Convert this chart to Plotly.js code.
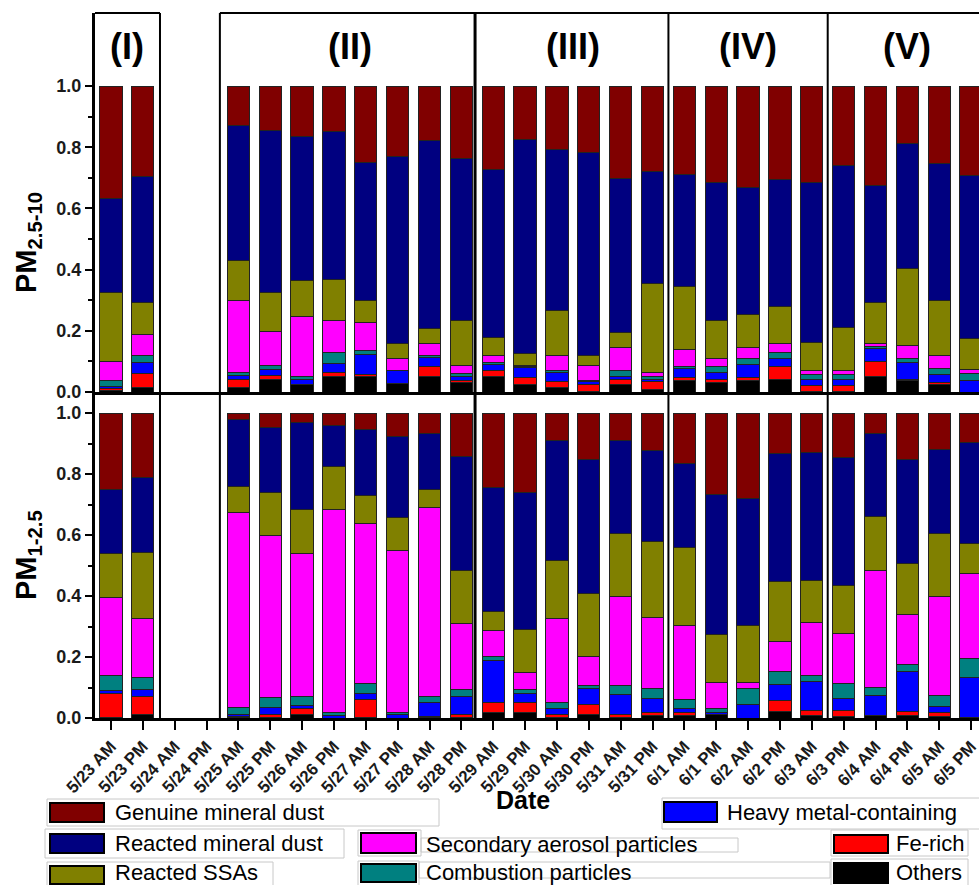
<!DOCTYPE html>
<html><head><meta charset="utf-8">
<script src="https://cdn.plot.ly/plotly-3.0.1.min.js"></script>
<style>html,body{margin:0;padding:0;overflow:hidden;background:#fff}#chart{width:1000px;height:885px}</style>
</head><body><div id="chart"></div>
<script>
// ---------------- DATA ----------------
const dates = ['5/23 AM','5/23 PM','5/24 AM','5/24 PM','5/25 AM','5/25 PM','5/26 AM','5/26 PM','5/27 AM','5/27 PM',
  '5/28 AM','5/28 PM','5/29 AM','5/29 PM','5/30 AM','5/30 PM','5/31 AM','5/31 PM','6/1 AM','6/1 PM',
  '6/2 AM','6/2 PM','6/3 AM','6/3 PM','6/4 AM','6/4 PM','6/5 AM','6/5 PM'];
const seriesNames = ['Others','Fe-rich','Heavy metal-containing','Combustion particles',
  'Secondary aerosol particles','Reacted SSAs','Reacted mineral dust','Genuine mineral dust'];
const seriesColors = ['#000000','#FF0000','#0000FF','#008080','#FF00FF','#808000','#000080','#800000'];
const periodLabels = ['(I)','(II)','(III)','(IV)','(V)'];

// PM2.5-10 fractions
const coarseOthers = [0.004,0.015,null,null,0.015,0.040,0.023,0.050,0.050,0.029,0.050,0.030,0.050,0.023,0.015,0.003,0.023,0.009,0.036,0.031,0.036,0.042,0.003,0.003,0.050,0.036,0.023,0.000];
const coarseFe     = [0.008,0.046,null,null,0.027,0.013,0.000,0.015,0.007,0.000,0.033,0.007,0.020,0.025,0.020,0.020,0.018,0.025,0.012,0.010,0.013,0.041,0.019,0.019,0.049,0.005,0.008,0.000];
const coarseHM     = [0.005,0.035,null,null,0.013,0.021,0.019,0.029,0.065,0.041,0.029,0.013,0.020,0.032,0.028,0.010,0.009,0.006,0.030,0.023,0.041,0.026,0.019,0.019,0.044,0.055,0.027,0.037];
const coarseComb   = [0.022,0.024,null,null,0.009,0.013,0.009,0.036,0.015,0.001,0.006,0.009,0.008,0.002,0.008,0.004,0.020,0.010,0.005,0.019,0.020,0.021,0.016,0.015,0.007,0.014,0.019,0.024];
const coarseSec    = [0.060,0.067,null,null,0.236,0.111,0.196,0.104,0.091,0.039,0.041,0.026,0.020,0.006,0.049,0.048,0.076,0.013,0.056,0.027,0.034,0.027,0.013,0.014,0.007,0.041,0.041,0.013];
const coarseSSA    = [0.227,0.105,null,null,0.131,0.128,0.116,0.135,0.070,0.049,0.048,0.150,0.060,0.037,0.145,0.034,0.050,0.292,0.205,0.124,0.110,0.121,0.092,0.140,0.135,0.252,0.180,0.100];
const coarseRMD    = [0.307,0.412,null,null,0.440,0.529,0.473,0.483,0.453,0.610,0.614,0.529,0.550,0.700,0.526,0.665,0.501,0.365,0.366,0.450,0.413,0.415,0.524,0.531,0.384,0.409,0.449,0.532];
const coarseGMD    = [0.367,0.296,null,null,0.129,0.145,0.164,0.148,0.249,0.231,0.179,0.236,0.272,0.175,0.209,0.216,0.303,0.280,0.290,0.316,0.333,0.307,0.314,0.259,0.324,0.188,0.253,0.294];

// PM1-2.5 fractions
const fineOthers = [0.003,0.013,null,null,0.002,0.002,0.013,0.000,0.002,0.000,0.001,0.002,0.019,0.019,0.002,0.013,0.002,0.009,0.008,0.012,0.000,0.020,0.007,0.004,0.007,0.007,0.004,0.002];
const fineFe     = [0.078,0.059,null,null,0.003,0.011,0.019,0.000,0.059,0.000,0.004,0.010,0.032,0.032,0.010,0.032,0.010,0.008,0.011,0.000,0.000,0.038,0.017,0.020,0.000,0.014,0.015,0.000];
const fineHM     = [0.009,0.022,null,null,0.005,0.023,0.008,0.007,0.018,0.013,0.046,0.060,0.137,0.028,0.020,0.051,0.066,0.047,0.011,0.005,0.043,0.051,0.095,0.040,0.066,0.133,0.020,0.131];
const fineComb   = [0.048,0.039,null,null,0.025,0.032,0.030,0.012,0.035,0.006,0.019,0.022,0.014,0.013,0.019,0.009,0.028,0.033,0.031,0.015,0.053,0.045,0.019,0.049,0.028,0.023,0.034,0.063];
const fineSec    = [0.257,0.193,null,null,0.639,0.529,0.470,0.665,0.524,0.531,0.619,0.215,0.084,0.058,0.275,0.096,0.294,0.232,0.241,0.084,0.020,0.097,0.175,0.165,0.383,0.163,0.327,0.279];
const fineSSA    = [0.144,0.218,null,null,0.084,0.142,0.145,0.139,0.093,0.108,0.061,0.175,0.064,0.139,0.189,0.206,0.205,0.249,0.256,0.158,0.186,0.196,0.137,0.156,0.176,0.165,0.205,0.098];
const fineRMD    = [0.211,0.245,null,null,0.221,0.214,0.284,0.137,0.215,0.264,0.183,0.373,0.406,0.451,0.394,0.441,0.306,0.300,0.277,0.459,0.417,0.421,0.421,0.420,0.272,0.343,0.276,0.330];
const fineGMD    = [0.250,0.211,null,null,0.021,0.047,0.031,0.040,0.054,0.078,0.067,0.143,0.244,0.260,0.091,0.152,0.089,0.122,0.165,0.267,0.281,0.132,0.129,0.146,0.068,0.152,0.119,0.097];

// ---------------- STYLE / LAYOUT ----------------
const coarseSeries = [coarseOthers,coarseFe,coarseHM,coarseComb,coarseSec,coarseSSA,coarseRMD,coarseGMD];
const fineSeries   = [fineOthers,fineFe,fineHM,fineComb,fineSec,fineSSA,fineRMD,fineGMD];
const FONT = 'Liberation Sans, Arial, sans-serif';

// plot area in pixels: x 95..987, y 13..718
const PL = 95, PR = 987, PT = 13, PB = 718;
const px = x => (x - PL) / (PR - PL);
const py = y => (PB - y) / (PB - PT);

const traces = [];
seriesNames.forEach((name, i) => {
  traces.push({type:'bar', x: dates, y: coarseSeries[i], name, xaxis:'x2', yaxis:'y',
    marker:{color: seriesColors[i], line:{color:'#222', width:1}}, showlegend:false, hoverinfo:'x+y+name'});
  traces.push({type:'bar', x: dates, y: fineSeries[i], name, xaxis:'x', yaxis:'y2',
    marker:{color: seriesColors[i], line:{color:'#222', width:1}}, showlegend:false, hoverinfo:'x+y+name'});
});

const splitY = py(392);
const yTicks = [0,0.2,0.4,0.6,0.8,1.0];
const yTickText = ['0.0','0.2','0.4','0.6','0.8','1.0'];
const yMinor = [0.1,0.3,0.5,0.7,0.9];
const yCommon = {
  tickvals: yTicks, ticktext: yTickText, ticks:'outside', ticklen:7, tickwidth:2, tickcolor:'#000',
  showline:true, linewidth:3, linecolor:'#000', showgrid:false, zeroline:false, fixedrange:true,
  tickfont:{family:FONT, size:18, weight:'bold', color:'#1a1a1a'},
  minor:{tickvals: yMinor, ticks:'outside', ticklen:4, tickwidth:2, tickcolor:'#000', showgrid:false}
};

// period boxes (category-index boundaries)
const boundaries = [1.54, 3.42, 11.43, 17.5, 22.5];
const boundaryWidth = [2, 2, 3, 2, 2];
const periodCenters = [0.5, 7.5, 14.5, 20, 25];

const shapes = [];
boundaries.forEach((b, i) => shapes.push({type:'line', xref:'x', yref:'paper', x0:b, x1:b, y0:0, y1:1,
  line:{color:'#000', width:boundaryWidth[i]}}));
shapes.push({type:'line', xref:'x', yref:'paper', x0:-0.5, x1:1.54, y0:1, y1:1, line:{color:'#000', width:2}});
shapes.push({type:'line', xref:'x', yref:'paper', x0:3.42, x1:27.5, y0:1, y1:1, line:{color:'#000', width:2}});

const annotations = [];
periodLabels.forEach((t, i) => annotations.push({xref:'x', yref:'paper', x: periodCenters[i], y: py(47),
  text: t, showarrow:false, xanchor:'center', yanchor:'middle', font:{family:FONT, size:36, weight:'bold', color:'#000'}}));

annotations.push({xref:'paper', yref:'paper', x: px(28), y: py(243), text:'PM<sub>2.5-10</sub>', textangle:-90,
  showarrow:false, xanchor:'center', yanchor:'middle', font:{family:FONT, size:29, weight:'bold', color:'#000'}});
annotations.push({xref:'paper', yref:'paper', x: px(28), y: py(555), text:'PM<sub>1-2.5</sub>', textangle:-90,
  showarrow:false, xanchor:'center', yanchor:'middle', font:{family:FONT, size:29, weight:'bold', color:'#000'}});
annotations.push({xref:'paper', yref:'paper', x: px(523), y: py(800), text:'Date',
  showarrow:false, xanchor:'center', yanchor:'middle', font:{family:FONT, size:25, weight:'bold', color:'#000'}});

// legend drawn manually: [seriesIndex, outerBox, swatch, textX, textY]
const legendSpots = [
  [7, [47,799,439,826], [50,803,104,822], 113, 812],
  [6, [45,829,344,858], [50,834,104,853], 113, 843],
  [5, [47,862,273,892], [50,866,104,884], 113, 872],
  [2, [662,798,990,829], [664,802,717,822], 725, 812],
  [4, [358,830,421,856], [361,833,416,853], 424, 844],
  [3, [358,861,419,890], [361,864,416,882], 424, 872],
  [1, [831,830,968,856], [834,835,888,853], 894, 843],
  [0, [831,859,968,890], [834,863,888,883], 894, 872]
];
const textBoxes = [[421,838,738,852],[419,862,830,878]];
textBoxes.forEach(b => shapes.push({type:'rect', xref:'paper', yref:'paper', x0:px(b[0]), x1:px(b[2]), y0:py(b[1]), y1:py(b[3]),
  line:{color:'#c8c8c8', width:1}, fillcolor:'rgba(0,0,0,0)'}));
legendSpots.forEach(([si, ob, sw, tx, ty]) => {
  shapes.push({type:'rect', xref:'paper', yref:'paper', x0:px(ob[0]), x1:px(ob[2]), y0:py(ob[1]), y1:py(ob[3]),
    line:{color:'#c8c8c8', width:1}, fillcolor:'rgba(255,255,255,0)'});
  shapes.push({type:'rect', xref:'paper', yref:'paper', x0:px(sw[0]), x1:px(sw[2]), y0:py(sw[1]), y1:py(sw[3]),
    line:{color:'#000', width:2}, fillcolor: seriesColors[si]});
  annotations.push({xref:'paper', yref:'paper', x:px(tx), y:py(ty), text: seriesNames[si], showarrow:false,
    xanchor:'left', yanchor:'middle', font:{family:FONT, size:22, color:'#000'}});
});

const layout = {
  width:1000, height:885,
  margin:{l:PL, r:1000-PR, t:PT, b:885-PB, pad:0},
  paper_bgcolor:'#fff', plot_bgcolor:'rgba(0,0,0,0)',
  barmode:'stack', bargap:0.30,
  showlegend:false,
  xaxis:{domain:[0,1], anchor:'y2', type:'category', categoryorder:'array', categoryarray:dates, range:[-0.5,27.5],
    showline:true, linewidth:3, linecolor:'#000', ticks:'outside', ticklen:9, tickwidth:2, tickcolor:'#000',
    tickangle:-47, tickfont:{family:FONT, size:17, weight:'bold', color:'#1a1a1a'}, showgrid:false, zeroline:false, fixedrange:true},
  xaxis2:{domain:[0,1], anchor:'y', type:'category', categoryorder:'array', categoryarray:dates, range:[-0.5,27.5],
    showline:true, linewidth:3, linecolor:'#000', ticks:'', showticklabels:false, showgrid:false, zeroline:false, fixedrange:true},
  yaxis: Object.assign({}, yCommon, {domain:[splitY,1], anchor:'x2', range:[0, (392-PT)/306]}),
  yaxis2: Object.assign({}, yCommon, {domain:[0,splitY], anchor:'x', range:[0, (PB-392)/305]}),
  shapes, annotations
};

Plotly.newPlot('chart', traces, layout, {displayModeBar:false, staticPlot:true});
</script>
</body></html>
